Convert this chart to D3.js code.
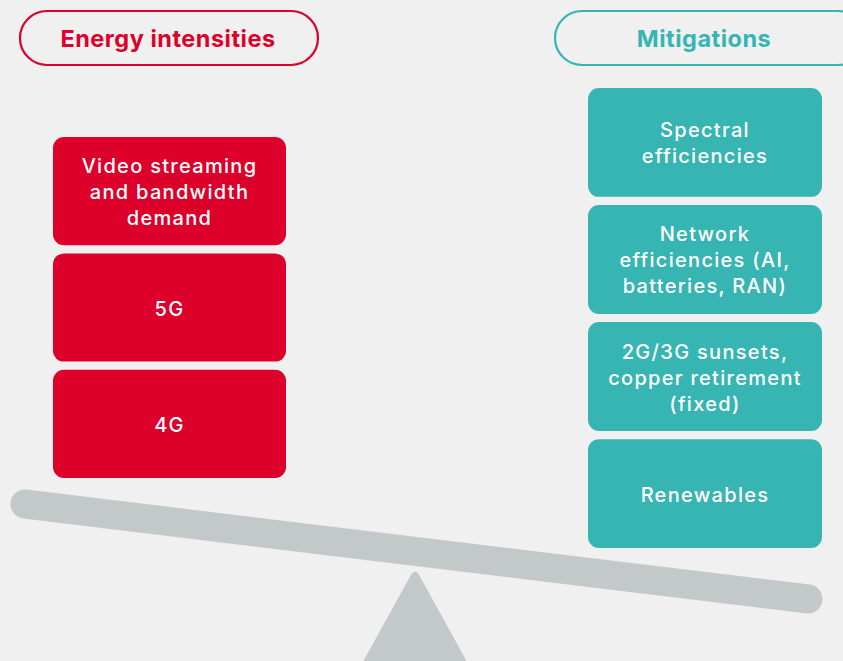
<!DOCTYPE html>
<html>
<head>
<meta charset="utf-8">
<script src="https://cdn.jsdelivr.net/npm/d3@7"></script>
<style>
  html, body { margin: 0; padding: 0; background: #f0f0f0; }
  svg { display: block; }
</style>
</head>
<body>
<div id="chart"></div>
<script>
// ---- data ----
const headers = ["Energy intensities", "Mitigations"];
const intensities = [
  ["Video streaming", "and bandwidth", "demand"],
  ["5G"],
  ["4G"]
];
const mitigations = [
  ["Spectral", "efficiencies"],
  ["Network", "efficiencies (AI,", "batteries, RAN)"],
  ["2G/3G sunsets,", "copper retirement", "(fixed)"],
  ["Renewables"]
];

const W = 843, H = 661;
const RED = "#dc002b", TEAL = "#36b5b3", GREY = "#c3c9c8", BG = "#f0f0f0";
const FONT = "Inter, 'Open Sans', sans-serif";

const svg = d3.select("#chart").append("svg")
  .attr("width", W).attr("height", H)
  .style("background", BG);

// ---- seesaw ----
const beam = d3.line();
svg.append("path")
  .attr("d", beam([[25, 504], [808, 599]]))
  .attr("stroke", GREY).attr("stroke-width", 29)
  .attr("stroke-linecap", "round").attr("fill", "none");

const tri = d3.line().curve(d3.curveLinearClosed);
svg.append("path")
  .attr("d", tri([[415, 576], [368, 661], [462, 661]]))
  .attr("fill", GREY).attr("stroke", GREY)
  .attr("stroke-width", 8).attr("stroke-linejoin", "round");

// ---- header pills ----
const pills = [
  { x: 20, w: 298, color: RED, text: headers[0], cx: 168 },
  { x: 555, w: 310, color: TEAL, text: headers[1], cx: 704 }
];
pills.forEach(p => {
  svg.append("rect")
    .attr("x", p.x).attr("y", 11).attr("width", p.w).attr("height", 54)
    .attr("rx", 27).attr("ry", 27)
    .attr("fill", "none").attr("stroke", p.color).attr("stroke-width", 2.2);
  svg.append("text").attr("x", p.cx).attr("y", 47)
    .attr("text-anchor", "middle").attr("fill", p.color)
    .style("font-family", FONT).style("font-weight", 700)
    .style("font-size", "23.5px").style("letter-spacing", "0.5px")
    .text(p.text);
});

// ---- stacks ----
function stack(data, x0, x1, y0, y1, color) {
  const y = d3.scaleBand().domain(d3.range(data.length))
    .range([y0, y1]).paddingInner(0.07).paddingOuter(0);
  const g = svg.append("g");
  const cells = g.selectAll("g.cell").data(data).join("g").attr("class", "cell");
  cells.append("rect")
    .attr("x", x0).attr("width", x1 - x0)
    .attr("y", (d, i) => y(i)).attr("height", y.bandwidth())
    .attr("rx", 11).attr("fill", color);
  const lh = 26;
  cells.append("text")
    .attr("text-anchor", "middle").attr("fill", "#ffffff")
    .style("font-family", FONT).style("font-weight", 500)
    .style("font-size", "20px").style("letter-spacing", "1.3px")
    .each(function (d, i) {
      const cy = y(i) + y.bandwidth() / 2;
      const n = d.length;
      d3.select(this).selectAll("tspan").data(d).join("tspan")
        .attr("x", (x0 + x1) / 2)
        .attr("y", (t, k) => cy + (k - (n - 1) / 2) * lh + 8)
        .text(t => t);
    });
}
stack(intensities, 53, 286, 137, 478, RED);
stack(mitigations, 588, 822, 88, 548, TEAL);
</script>
</body>
</html>
